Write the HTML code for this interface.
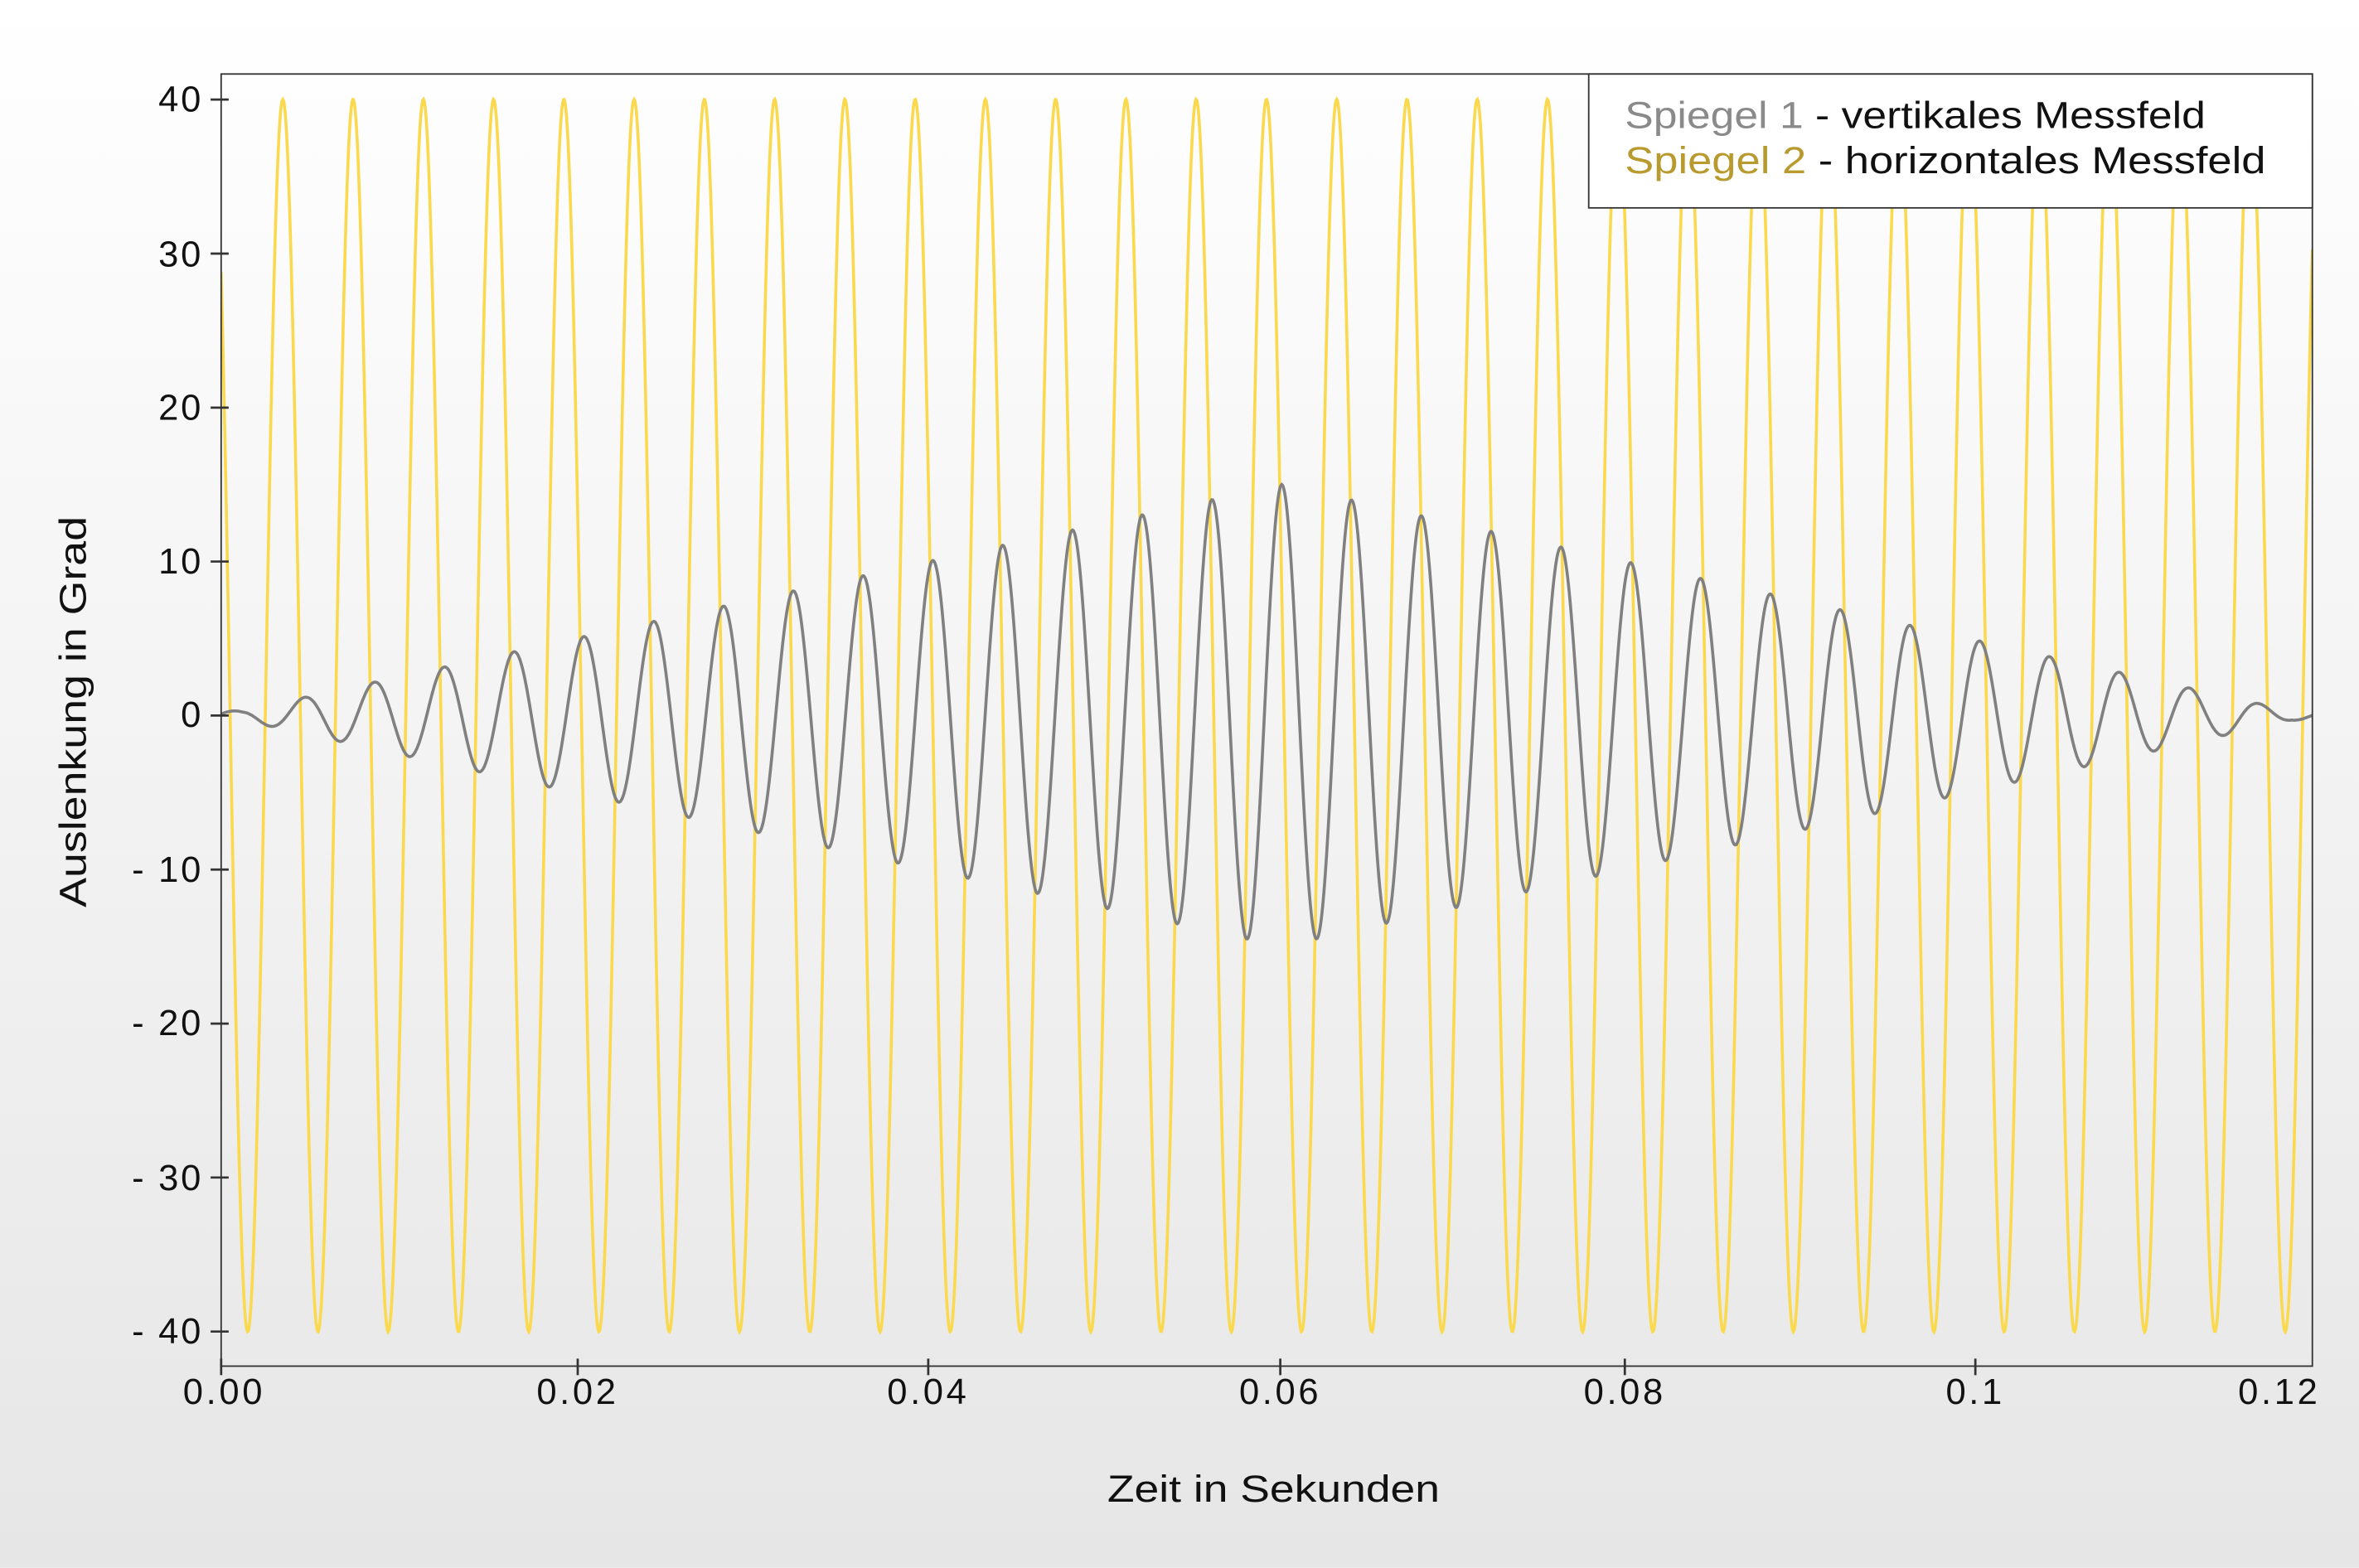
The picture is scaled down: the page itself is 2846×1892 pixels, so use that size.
<!DOCTYPE html>
<html><head><meta charset="utf-8"><style>
html,body{margin:0;padding:0;}
body{width:2846px;height:1892px;overflow:hidden;}
svg{display:block;}
text{font-family:"Liberation Sans",sans-serif;fill:#111;}
</style></head><body>
<svg id="s" width="2846" height="1892" viewBox="0 0 1568 1042" xmlns="http://www.w3.org/2000/svg">
<defs><linearGradient id="bg" x1="0" y1="0" x2="0" y2="1">
<stop offset="0" stop-color="#ffffff"/><stop offset="1" stop-color="#e6e6e6"/></linearGradient>
<clipPath id="cp"><rect x="147" y="49" width="1390" height="859"/></clipPath></defs>
<rect width="1568" height="1042" fill="url(#bg)"/>
<g clip-path="url(#cp)">
<path id="yl" fill="none" stroke="#fbd94f" stroke-width="2"/>
<path id="gl" fill="none" stroke="#808080" stroke-width="2"/>
</g>
<rect x="147" y="49" width="1390" height="859" fill="none" stroke="#333" stroke-width="1"/>
<g stroke="#333" stroke-width="1.5">
<line x1="140" y1="66" x2="152" y2="66"/><line x1="140" y1="168.4" x2="152" y2="168.4"/>
<line x1="140" y1="270.8" x2="152" y2="270.8"/><line x1="140" y1="373.1" x2="152" y2="373.1"/>
<line x1="140" y1="475.5" x2="152" y2="475.5"/><line x1="140" y1="577.9" x2="152" y2="577.9"/>
<line x1="140" y1="680.3" x2="152" y2="680.3"/><line x1="140" y1="782.6" x2="152" y2="782.6"/>
<line x1="140" y1="885" x2="152" y2="885"/>
<line x1="147" y1="903" x2="147" y2="914"/><line x1="384" y1="903" x2="384" y2="914"/>
<line x1="617" y1="903" x2="617" y2="914"/><line x1="851" y1="903" x2="851" y2="914"/>
<line x1="1080" y1="903" x2="1080" y2="914"/><line x1="1313" y1="903" x2="1313" y2="914"/>
</g>
<g font-size="24" text-anchor="end" letter-spacing="1.5">
<text x="135" y="74">40</text><text x="135" y="177">30</text><text x="135" y="279">20</text>
<text x="135" y="381">10</text><text x="135" y="483">0</text><text x="135" y="586">- 10</text>
<text x="135" y="688">- 20</text><text x="135" y="791">- 30</text><text x="135" y="893">- 40</text>
</g>
<g font-size="24" text-anchor="middle" letter-spacing="2">
<text x="149" y="933">0.00</text><text x="384" y="933">0.02</text><text x="617" y="933">0.04</text>
<text x="851" y="933">0.06</text><text x="1080" y="933">0.08</text><text x="1313" y="933">0.1</text>
<text x="1515" y="933">0.12</text>
</g>
<text x="736" y="998" font-size="25" textLength="221" lengthAdjust="spacingAndGlyphs">Zeit in Sekunden</text>
<text transform="translate(57,603) rotate(-90)" font-size="25" textLength="260" lengthAdjust="spacingAndGlyphs">Auslenkung in Grad</text>
<rect x="1056" y="49" width="481" height="89" fill="#fff" stroke="#333" stroke-width="1"/>
<text x="1080" y="85" font-size="25" textLength="386" lengthAdjust="spacingAndGlyphs"><tspan style="fill:#8a8a8a">Spiegel 1</tspan> - vertikales Messfeld</text>
<text x="1080" y="115" font-size="25" textLength="426" lengthAdjust="spacingAndGlyphs"><tspan style="fill:#b99a2e">Spiegel 2</tspan> - horizontales Messfeld</text>
</svg>
<script>
var y0=475.5,k=10.24;
var a="",b="";
for(var x=147;x<=1537;x+=0.5){
 var v=40*Math.cos(2*Math.PI*(x-188)/46.7);
 a+=(x==147?"M":"L")+x.toFixed(1)+" "+(y0-v*k).toFixed(1);
 var env=x<852?15*(x-147)/705:15*(1537-x)/685;
 if(env<0.3)env=0.3;
 var g=env*Math.cos(2*Math.PI*(x-852)/46.4);
 b+=(x==147?"M":"L")+x.toFixed(1)+" "+(y0-g*k).toFixed(1);
}
document.getElementById("yl").setAttribute("d",a);
document.getElementById("gl").setAttribute("d",b);
</script>
</body></html>
